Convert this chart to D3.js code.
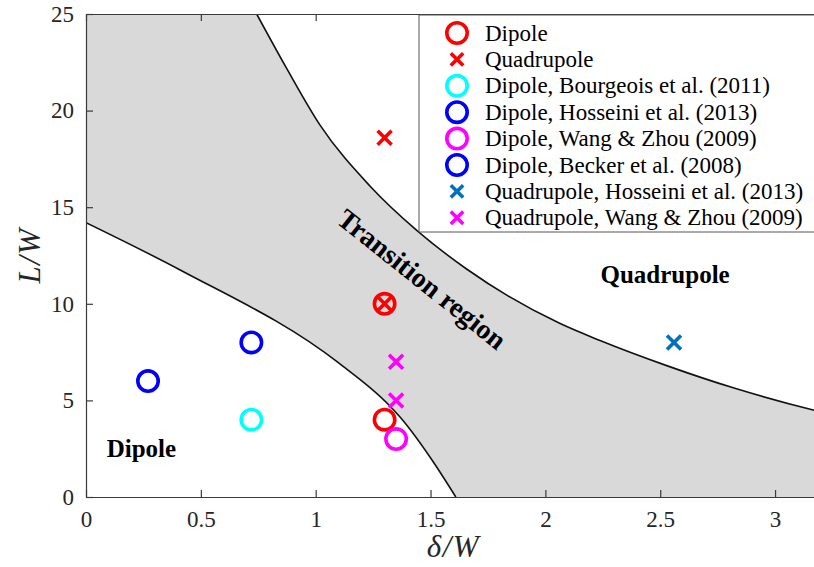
<!DOCTYPE html>
<html><head><meta charset="utf-8">
<script src="https://cdn.jsdelivr.net/npm/d3@7"></script>
<style>body{margin:0;background:#fff;overflow:hidden;} svg{display:block;}</style>
</head><body>
<svg id="c" width="814" height="567"></svg>
<script>
// ---------- data ----------
const xTicks = [0, 0.5, 1, 1.5, 2, 2.5, 3];
const yTicks = [0, 5, 10, 15, 20, 25];
const xTickLabels = ["0", "0.5", "1", "1.5", "2", "2.5", "3"];
const yTickLabels = ["0", "5", "10", "15", "20", "25"];

// lower boundary of transition region (dipole side)
const lowerX = [0, 0.41, 1.10, 1.32, 1.37, 1.51, 1.61];
const lowerY = [14.2, 11.75, 6.94, 4.75, 4.1, 1.85, 0];
// upper boundary of transition region (quadrupole side)
const upperX = [0.743, 0.873, 1.019, 1.236, 1.44, 1.657, 2.062, 2.238, 2.528, 2.818, 3.166, 3.2];
const upperY = [25, 22.2, 19.25, 16.1, 13.8, 11.8, 8.99, 8.1, 6.8, 5.65, 4.5, 4.4];

const seriesNames = ["Dipole", "Quadrupole", "Dipole, Bourgeois et al. (2011)", "Dipole, Hosseini et al. (2013)",
  "Dipole, Wang & Zhou (2009)", "Dipole, Becker et al. (2008)", "Quadrupole, Hosseini et al. (2013)", "Quadrupole, Wang & Zhou (2009)"];
const seriesColors = ["#ff0000", "#ff0000", "#00ffff", "#0000ff", "#ff00ff", "#0000ff", "#0072bd", "#ff00ff"];
const seriesShapes = ["circle", "x", "circle", "circle", "circle", "circle", "x", "x"];
const seriesX = [[1.3, 1.3], [1.3, 1.3], [0.72], [0.72], [1.35], [0.27], [2.56], [1.35, 1.35]];
const seriesY = [[4, 10], [10, 18.6], [4], [8], [3], [6], [8], [7, 5]];

const xLabel = "δ/W", yLabel = "L/W";
const regionLabels = ["Dipole", "Quadrupole", "Transition region"];

// ---------- layout ----------
const svg = d3.select("#c");
const L = 86, T = 14, B = 497, R = 821;
const x = d3.scaleLinear().domain([0, 3.2]).range([L, R]);
const y = d3.scaleLinear().domain([0, 25]).range([B, T]);
const serif = "'Liberation Serif','Times New Roman',serif";
const axisCol = "#3a3a3a";

svg.append("defs").append("clipPath").attr("id", "pc")
  .append("rect").attr("x", L).attr("y", T).attr("width", R - L).attr("height", B - T);

const plot = svg.append("g").attr("clip-path", "url(#pc)");
plot.append("rect").attr("x", L).attr("y", T).attr("width", R - L).attr("height", B - T).attr("fill", "#d9d9d9");

const lowerPts = lowerX.map((v, i) => [v, lowerY[i]]);
const upperPts = upperX.map((v, i) => [v, upperY[i]]);
const curve = d3.curveMonotoneX;

plot.append("path").attr("fill", "#fff")
  .attr("d", d3.area().curve(curve).x(d => x(d[0])).y0(y(0)).y1(d => y(d[1]))(lowerPts));
plot.append("path").attr("fill", "#fff")
  .attr("d", d3.area().curve(curve).x(d => x(d[0])).y0(y(25)).y1(d => y(d[1]))(upperPts));
const line = d3.line().curve(curve).x(d => x(d[0])).y(d => y(d[1]));
plot.append("path").attr("fill", "none").attr("stroke", "#111").attr("stroke-width", 1.6).attr("d", line(lowerPts));
plot.append("path").attr("fill", "none").attr("stroke", "#111").attr("stroke-width", 1.6).attr("d", line(upperPts));

// region labels
const lab = svg.append("g").attr("font-family", serif).attr("font-weight", "bold").attr("fill", "#000");
lab.append("text").attr("x", x(0.09)).attr("y", y(2.05)).attr("font-size", 25).text(regionLabels[0]);
lab.append("text").attr("x", x(2.24)).attr("y", y(11.1)).attr("font-size", 25).text(regionLabels[1]);
lab.append("text").attr("transform", `translate(${x(1.463)},${y(11.28)}) rotate(38.5)`)
  .attr("text-anchor", "middle").attr("dominant-baseline", "central").attr("font-size", 28).text(regionLabels[2]);

// axes
const axG = svg.append("g");
const xb = axG.append("g").attr("transform", `translate(0,${B})`)
  .call(d3.axisBottom(x).tickValues(xTicks).tickFormat((d, i) => xTickLabels[i]).tickSizeInner(-7).tickSizeOuter(0).tickPadding(14));
const xt = axG.append("g").attr("transform", `translate(0,${T})`)
  .call(d3.axisTop(x).tickValues(xTicks).tickFormat("").tickSizeInner(-7).tickSizeOuter(0));
const yl = axG.append("g").attr("transform", `translate(${L},0)`)
  .call(d3.axisLeft(y).tickValues(yTicks).tickFormat((d, i) => yTickLabels[i]).tickSizeInner(-7).tickSizeOuter(0).tickPadding(12));
const yr = axG.append("g").attr("transform", `translate(${R},0)`)
  .call(d3.axisRight(y).tickValues(yTicks).tickFormat("").tickSizeInner(-7).tickSizeOuter(0));
axG.selectAll(".domain").attr("stroke", axisCol).attr("stroke-width", 1.2);
axG.selectAll(".tick line").attr("stroke", axisCol).attr("stroke-width", 1.2);
axG.selectAll("text").attr("font-family", serif).attr("font-size", 23).attr("fill", "#262626");
xb.selectAll("text").attr("dy", "0.71em");

svg.append("text").attr("x", (L + R) / 2).attr("y", 557).attr("text-anchor", "middle")
  .attr("font-family", serif).attr("font-style", "italic").attr("font-size", 31).attr("letter-spacing", 1.5)
  .attr("fill", "#262626").text(xLabel);
svg.append("text").attr("transform", `translate(40,${(T + B) / 2}) rotate(-90)`).attr("text-anchor", "middle")
  .attr("font-family", serif).attr("font-style", "italic").attr("font-size", 31).attr("letter-spacing", 1.5)
  .attr("fill", "#262626").text(yLabel);

// markers
function drawMarker(g, shape, color, cx, cy, s) {
  if (shape === "circle") {
    g.append("circle").attr("cx", cx).attr("cy", cy).attr("r", 10.2).attr("fill", "none")
      .attr("stroke", color).attr("stroke-width", 3.6);
  } else {
    g.append("path").attr("d", `M${cx - s},${cy - s}L${cx + s},${cy + s}M${cx - s},${cy + s}L${cx + s},${cy - s}`)
      .attr("stroke", color).attr("stroke-width", 3.6).attr("fill", "none");
  }
}
const mk = svg.append("g");
seriesNames.forEach((n, i) => {
  seriesX[i].forEach((v, j) => drawMarker(mk, seriesShapes[i], seriesColors[i], x(v), y(seriesY[i][j]), 7));
});

// legend
const lg = svg.append("g");
lg.append("rect").attr("x", 419).attr("y", 15).attr("width", 400).attr("height", 217)
  .attr("fill", "#fff").attr("stroke", "#555").attr("stroke-width", 1);
seriesNames.forEach((n, i) => {
  const cy = 33 + i * 26.4;
  drawMarker(lg, seriesShapes[i], seriesColors[i], 457, cy, 6.2);
  lg.append("text").attr("x", 485).attr("y", cy).attr("dominant-baseline", "central")
    .attr("font-family", serif).attr("font-size", 23).attr("fill", "#000").text(n);
});
</script>
</body></html>
